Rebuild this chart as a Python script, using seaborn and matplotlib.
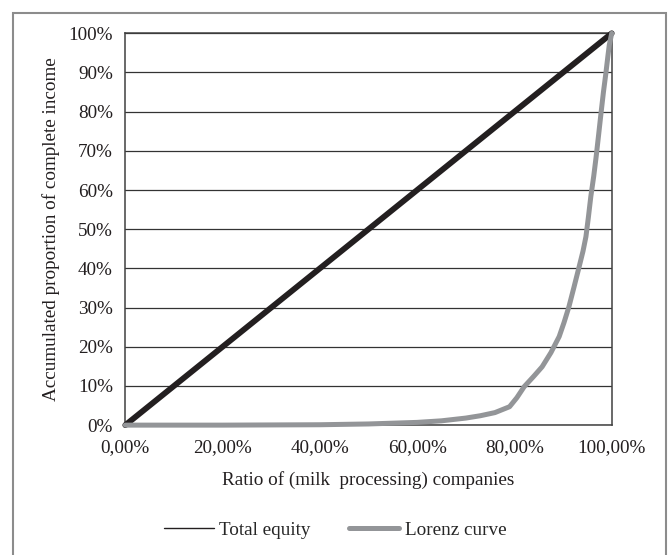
import matplotlib
matplotlib.use("Agg")
import matplotlib.pyplot as plt
import matplotlib.ticker as mticker
import seaborn as sns
import pandas as pd
from matplotlib.patches import Rectangle

# data (fractions of total)
equity_x = [0.0, 1.0]
equity_y = [0.0, 1.0]

lorenz_x = [0.0, 0.10, 0.20, 0.30, 0.40, 0.50, 0.60, 0.65, 0.70, 0.73, 0.76,
            0.79, 0.805, 0.82, 0.84, 0.857, 0.875, 0.892, 0.902, 0.912,
            0.922, 0.933, 0.941, 0.947, 0.952, 0.957, 0.963, 0.968, 0.973,
            0.978, 0.983, 0.988, 0.992, 0.995, 1.0]
lorenz_y = [0.0, 0.0, 0.0, 0.0005, 0.001, 0.003, 0.007, 0.011, 0.018, 0.024,
            0.032, 0.047, 0.07, 0.098, 0.125, 0.149, 0.185, 0.226, 0.262,
            0.302, 0.35, 0.404, 0.444, 0.481, 0.53, 0.583, 0.635, 0.685,
            0.74, 0.796, 0.85, 0.898, 0.94, 0.97, 1.0]

x_ticks = [0.0, 0.2, 0.4, 0.6, 0.8, 1.0]
y_ticks = [i / 10 for i in range(11)]

sns.set_style("white")
plt.rcParams['font.family'] = ['Liberation Serif', 'DejaVu Serif']
FS = 13.8
INK = '#231f20'

fig = plt.figure(figsize=(6.7, 5.55), dpi=100)
ax = fig.add_axes([0.187, 0.234, 0.726, 0.706])

df_eq = pd.DataFrame({'x': equity_x, 'y': equity_y})
df_lz = pd.DataFrame({'x': lorenz_x, 'y': lorenz_y})

sns.lineplot(data=df_eq, x='x', y='y', ax=ax, color=INK, linewidth=4.2,
             clip_on=False, zorder=4)
sns.lineplot(data=df_lz, x='x', y='y', ax=ax, color='#939598', linewidth=3.6,
             clip_on=False, zorder=5)

ax.set_xlim(0, 1)
ax.set_ylim(0, 1)
ax.set_xticks(x_ticks)
ax.set_yticks(y_ticks)
ax.xaxis.set_major_formatter(mticker.FuncFormatter(
    lambda v, p: f"{v * 100:.2f}%".replace('.', ',')))
ax.yaxis.set_major_formatter(mticker.FuncFormatter(lambda v, p: f"{v * 100:.0f}%"))
ax.tick_params(axis='both', direction='out', length=5, width=1, color='#404040',
               labelsize=FS, labelcolor=INK)
ax.tick_params(axis='y', pad=4)
ax.tick_params(axis='x', pad=5)

ax.grid(axis='y', color='#333333', linewidth=0.9)
ax.grid(axis='x', visible=False)
for s in ax.spines.values():
    s.set_color('#404040')
    s.set_linewidth(1.1)

ax.set_xlabel("Ratio of (milk  processing) companies", fontsize=FS,
              color=INK, labelpad=11)
ax.set_ylabel("Accumulated proportion of complete income", fontsize=FS,
              color=INK, labelpad=6)

h1, = ax.plot([], [], color=INK, linewidth=1.0)
h2, = ax.plot([], [], color='#939598', linewidth=3.6)
fig.legend([h1, h2], ['Total equity', 'Lorenz curve'], loc='center',
           bbox_to_anchor=(0.5, 0.045), ncol=2, frameon=False, fontsize=FS,
           handlelength=2.6, columnspacing=2.0, handletextpad=0.3)

fig.patches.append(Rectangle((13 / 670, -0.01), (666 - 13) / 670, (555 - 13) / 555 + 0.01,
                             transform=fig.transFigure, fill=False,
                             edgecolor='#8c8c8c', linewidth=1.5))

fig.savefig("out.png", dpi=100)
